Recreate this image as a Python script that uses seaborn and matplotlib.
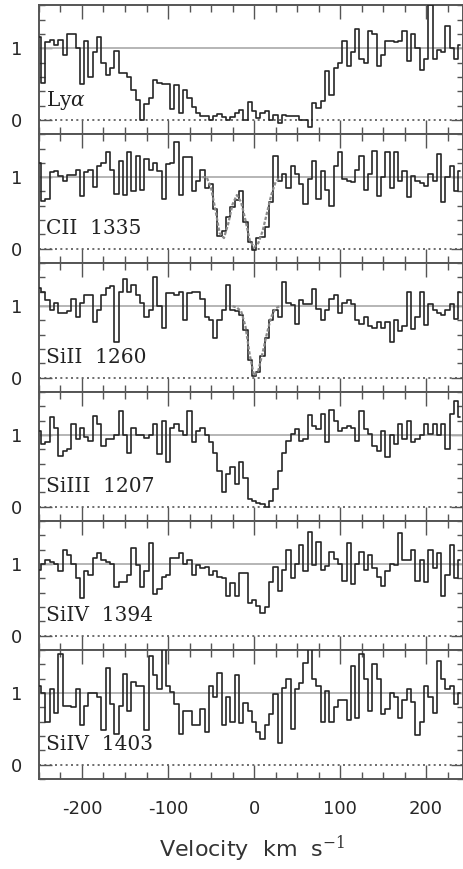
import numpy as np
import pandas as pd
import matplotlib
matplotlib.use("Agg")
import matplotlib.pyplot as plt
from matplotlib.ticker import MultipleLocator, FixedLocator
import seaborn as sns

# velocity grid (km/s), 5 km/s bins
velocity = list(range(-250, 245, 5))

lya = [1.15, 0.52, 1.08, 1.12, 1.05, 1.12, 0.9, 1.2, 1.2, 1.0,
       0.5, 1.1, 0.6, 0.95, 1.15, 0.8, 0.63, 0.72, 0.96, 0.65,
       0.66, 0.6, 0.42, 0.28, 0.0, 0.22, 0.3, 0.56, 0.52, 0.5,
       0.5, 0.15, 0.48, 0.1, 0.42, 0.3, 0.18, 0.1, 0.05, 0.06,
       0.0, 0.05, 0.08, 0.04, 0.0, 0.04, 0.1, 0.14, 0.0, 0.25,
       0.12, 0.02, 0.1, 0.12, 0.0, 0.07, -0.05, 0.07, 0.05, 0.05,
       0.05, 0.0, 0.0, -0.1, 0.23, 0.17, 0.26, 0.68, 0.35, 0.73,
       0.8, 1.1, 0.75, 0.95, 1.27, 0.85, 0.8, 1.24, 1.2, 0.75,
       0.9, 1.1, 1.1, 1.08, 1.1, 1.24, 0.82, 1.2, 1.0, 0.7,
       0.85, 1.6, 0.85, 0.97, 0.95, 1.31, 1.0, 0.85, 1.05]

cii = [1.2, 0.67, 0.7, 1.07, 1.08, 1.02, 0.95, 1.03, 1.03, 1.1,
       0.74, 1.07, 1.1, 0.86, 1.16, 1.2, 1.35, 1.1, 0.77, 1.23,
       0.75, 1.35, 0.8, 1.3, 0.82, 1.25, 1.1, 1.2, 1.08, 0.7,
       1.18, 1.2, 1.49, 0.75, 1.28, 1.28, 0.8, 0.95, 1.1, 0.85,
       0.9, 0.55, 0.18, 0.25, 0.44, 0.58, 0.68, 0.8, 0.38, 0.1,
       -0.02, 0.15, 0.16, 0.3, 0.65, 1.3, 0.95, 1.05, 0.85, 1.15,
       1.05, 0.9, 0.63, 0.98, 1.22, 0.7, 1.08, 0.82, 0.6, 1.15,
       1.35, 0.98, 0.95, 0.93, 1.1, 1.3, 0.82, 1.05, 1.37, 0.74,
       1.0, 1.35, 0.85, 1.35, 0.95, 1.08, 0.72, 1.02, 0.95, 0.92,
       0.87, 1.05, 0.95, 1.33, 0.65, 1.0, 1.15, 0.8, 1.08]

siii = [1.25, 1.2, 1.08, 0.95, 1.05, 0.9, 0.9, 0.93, 1.1, 0.85,
        1.05, 1.15, 1.15, 0.78, 0.95, 1.15, 1.25, 1.28, 0.5, 1.2,
        1.38, 1.2, 1.3, 1.15, 1.05, 0.85, 0.95, 1.4, 1.0, 0.7,
        1.18, 1.18, 1.15, 1.2, 0.8, 1.18, 1.2, 1.2, 1.1, 0.85,
        0.8, 0.55, 0.8, 0.95, 1.3, 0.95, 0.93, 0.88, 0.66, 0.25,
        0.02, 0.08, 0.3, 0.55, 0.8, 0.95, 0.85, 1.33, 1.05, 1.02,
        0.75, 1.08, 1.03, 1.03, 1.24, 0.96, 0.8, 0.95, 1.1, 1.15,
        0.9, 1.05, 1.08, 1.03, 0.8, 0.75, 0.85, 0.72, 0.7, 0.78,
        0.7, 0.78, 0.5, 0.8, 0.65, 0.72, 1.2, 0.68, 0.85, 1.2,
        0.74, 1.03, 0.95, 0.9, 0.88, 0.95, 1.03, 0.82, 1.2]

siiii = [1.05, 0.88, 0.9, 1.25, 1.1, 0.71, 0.78, 0.8, 1.15, 0.95,
         1.1, 0.98, 0.92, 1.27, 1.15, 0.85, 0.95, 0.95, 1.0, 1.33,
         1.0, 0.75, 1.1, 1.0, 1.0, 0.96, 1.0, 1.15, 0.73, 1.2,
         0.62, 1.1, 1.15, 1.05, 1.0, 1.33, 0.9, 1.05, 1.1, 1.0,
         0.9, 0.75, 0.5, 0.2, 0.45, 0.55, 0.32, 0.62, 0.4, 0.11,
         0.08, 0.05, 0.04, -0.01, 0.08, 0.25, 0.5, 0.75, 0.92, 1.02,
         1.08, 0.92, 0.95, 1.28, 1.12, 1.08, 1.3, 0.9, 1.35, 1.2,
         1.05, 1.1, 1.12, 1.1, 0.92, 1.33, 1.08, 1.02, 0.85, 0.78,
         1.05, 0.7, 1.0, 0.88, 1.15, 0.95, 1.2, 0.9, 0.95, 1.0,
         1.15, 1.02, 1.15, 1.0, 1.15, 0.8, 1.3, 1.47, 1.25]

siiv1394 = [0.92, 1.0, 1.05, 1.03, 1.0, 0.9, 1.2, 1.12, 1.0, 0.8,
            0.52, 0.9, 0.85, 1.08, 1.15, 1.05, 1.03, 1.0, 0.68, 0.75,
            0.75, 0.85, 1.22, 0.98, 0.68, 0.9, 1.3, 0.58, 0.65, 0.82,
            0.85, 1.08, 1.08, 1.15, 1.0, 1.05, 0.85, 0.98, 0.95, 0.96,
            0.85, 0.9, 0.82, 0.8, 0.55, 0.73, 0.55, 0.88, 0.88, 0.45,
            0.5, 0.42, 0.32, 0.4, 0.75, 0.96, 0.62, 0.92, 1.2, 0.8,
            1.0, 1.27, 0.9, 1.45, 0.98, 1.31, 0.92, 0.97, 1.17, 1.07,
            1.0, 0.77, 1.29, 0.72, 1.0, 1.17, 0.92, 1.12, 0.95, 0.82,
            0.7, 0.9, 1.0, 0.98, 1.43, 1.05, 1.05, 1.2, 0.77, 1.05,
            0.75, 1.2, 0.95, 1.15, 0.56, 0.85, 1.27, 0.8, 1.05]

siiv1403 = [1.1, 1.0, 0.6, 1.05, 0.72, 1.54, 0.82, 0.82, 0.8, 1.05,
            0.55, 0.82, 1.0, 1.0, 0.95, 0.48, 1.35, 0.85, 0.43, 0.82,
            1.26, 0.75, 1.15, 1.1, 1.1, 0.48, 1.52, 1.25, 1.05, 1.61,
            1.1, 1.02, 0.85, 0.43, 0.75, 0.75, 0.55, 0.55, 0.78, 0.46,
            1.1, 0.95, 1.28, 0.55, 0.95, 0.6, 1.25, 0.58, 0.86, 0.75,
            0.6, 0.45, 0.36, 0.55, 0.7, 0.98, 0.3, 1.07, 1.2, 0.5,
            1.05, 1.14, 1.42, 1.61, 1.2, 1.1, 0.6, 1.03, 0.6, 0.8,
            0.9, 0.9, 0.62, 1.38, 0.65, 1.54, 1.2, 0.75, 1.4, 1.2,
            0.7, 0.78, 1.0, 0.95, 0.65, 0.9, 1.05, 0.88, 0.41, 0.6,
            1.1, 0.95, 0.72, 1.45, 1.2, 1.05, 1.1, 0.85, 1.0]

# fitted model profiles
cii_model_v = list(range(-60, 35, 5))
cii_model = [1.0, 1.0, 0.85, 0.55, 0.22, 0.15, 0.35, 0.62, 0.75, 0.65,
             0.4, 0.12, 0.02, 0.08, 0.25, 0.5, 0.75, 0.93, 1.0]
siii_model_v = list(range(-25, 35, 5))
siii_model = [1.0, 0.98, 0.93, 0.72, 0.32, 0.03, 0.1, 0.35, 0.62, 0.85, 0.97, 1.0]

labels = ["Ly$\\alpha$", "CII  1335", "SiII  1260", "SiIII  1207", "SiIV  1394", "SiIV  1403"]
series = [lya, cii, siii, siiii, siiv1394, siiv1403]
models = [None, (cii_model_v, cii_model), (siii_model_v, siii_model), None, None, None]
xtick_labels = ["-200", "-100", "0", "100", "200"]

sns.set_style("ticks")
plt.rcParams["font.family"] = ["DejaVu Sans"]
plt.rcParams["mathtext.fontset"] = "dejavuserif"

fig, axes = plt.subplots(6, 1, figsize=(4.64, 8.69), dpi=100, sharex=True,
                         gridspec_kw=dict(hspace=0))
fig.subplots_adjust(left=0.084, right=0.998, top=0.994, bottom=0.1036)

spine_col = "#555555"
for ax, lab, flux, mdl in zip(axes, labels, series, models):
    ax.axhline(1, color="#b0b0b0", lw=1.3, zorder=1)
    ax.axhline(0, color="#555555", lw=1.2, ls=(0, (1.2, 2.0)), zorder=1)
    df = pd.DataFrame({"v": velocity, "f": flux})
    sns.lineplot(data=df, x="v", y="f", ax=ax, drawstyle="steps-mid",
                 color="#262626", linewidth=1.2, estimator=None, sort=False, zorder=3)
    if mdl is not None:
        mdf = pd.DataFrame({"v": mdl[0], "f": mdl[1]})
        sns.lineplot(data=mdf, x="v", y="f", ax=ax, color="#8a8a8a",
                     linewidth=1.6, ls=(0, (1.5, 0.8)), estimator=None, sort=False, zorder=4)
    ax.text(-242, 0.2, lab, fontsize=14.5, family="DejaVu Serif", color="#222222",
            va="baseline", ha="left", zorder=5)
    ax.set_xlim(-250, 243)
    ax.set_ylim(-0.2, 1.6)
    ax.set_xlabel("")
    ax.set_ylabel("")
    ax.xaxis.set_major_locator(FixedLocator([-200, -100, 0, 100, 200]))
    ax.xaxis.set_minor_locator(MultipleLocator(25))
    ax.yaxis.set_major_locator(FixedLocator([0, 1]))
    ax.yaxis.set_minor_locator(MultipleLocator(0.2))
    ax.set_yticklabels(["0", "1"])
    ax.tick_params(which="both", direction="in", top=True, right=True,
                   color=spine_col, width=1.0)
    ax.tick_params(axis="x", which="major", length=10, labelsize=13, pad=15)
    ax.tick_params(axis="x", which="minor", length=5)
    ax.tick_params(axis="y", which="major", length=9, labelsize=13, pad=12)
    ax.tick_params(axis="y", which="minor", length=4.5)
    for s in ax.spines.values():
        s.set_color(spine_col)
        s.set_linewidth(1.4)

axes[-1].set_xticklabels(xtick_labels)
fig.text(252 / 464, 1 - 857 / 869, "Velocity  km  s$^{-1}$", fontsize=16,
         ha="center", va="baseline", color="#333333")

fig.savefig("out.png", dpi=100)
